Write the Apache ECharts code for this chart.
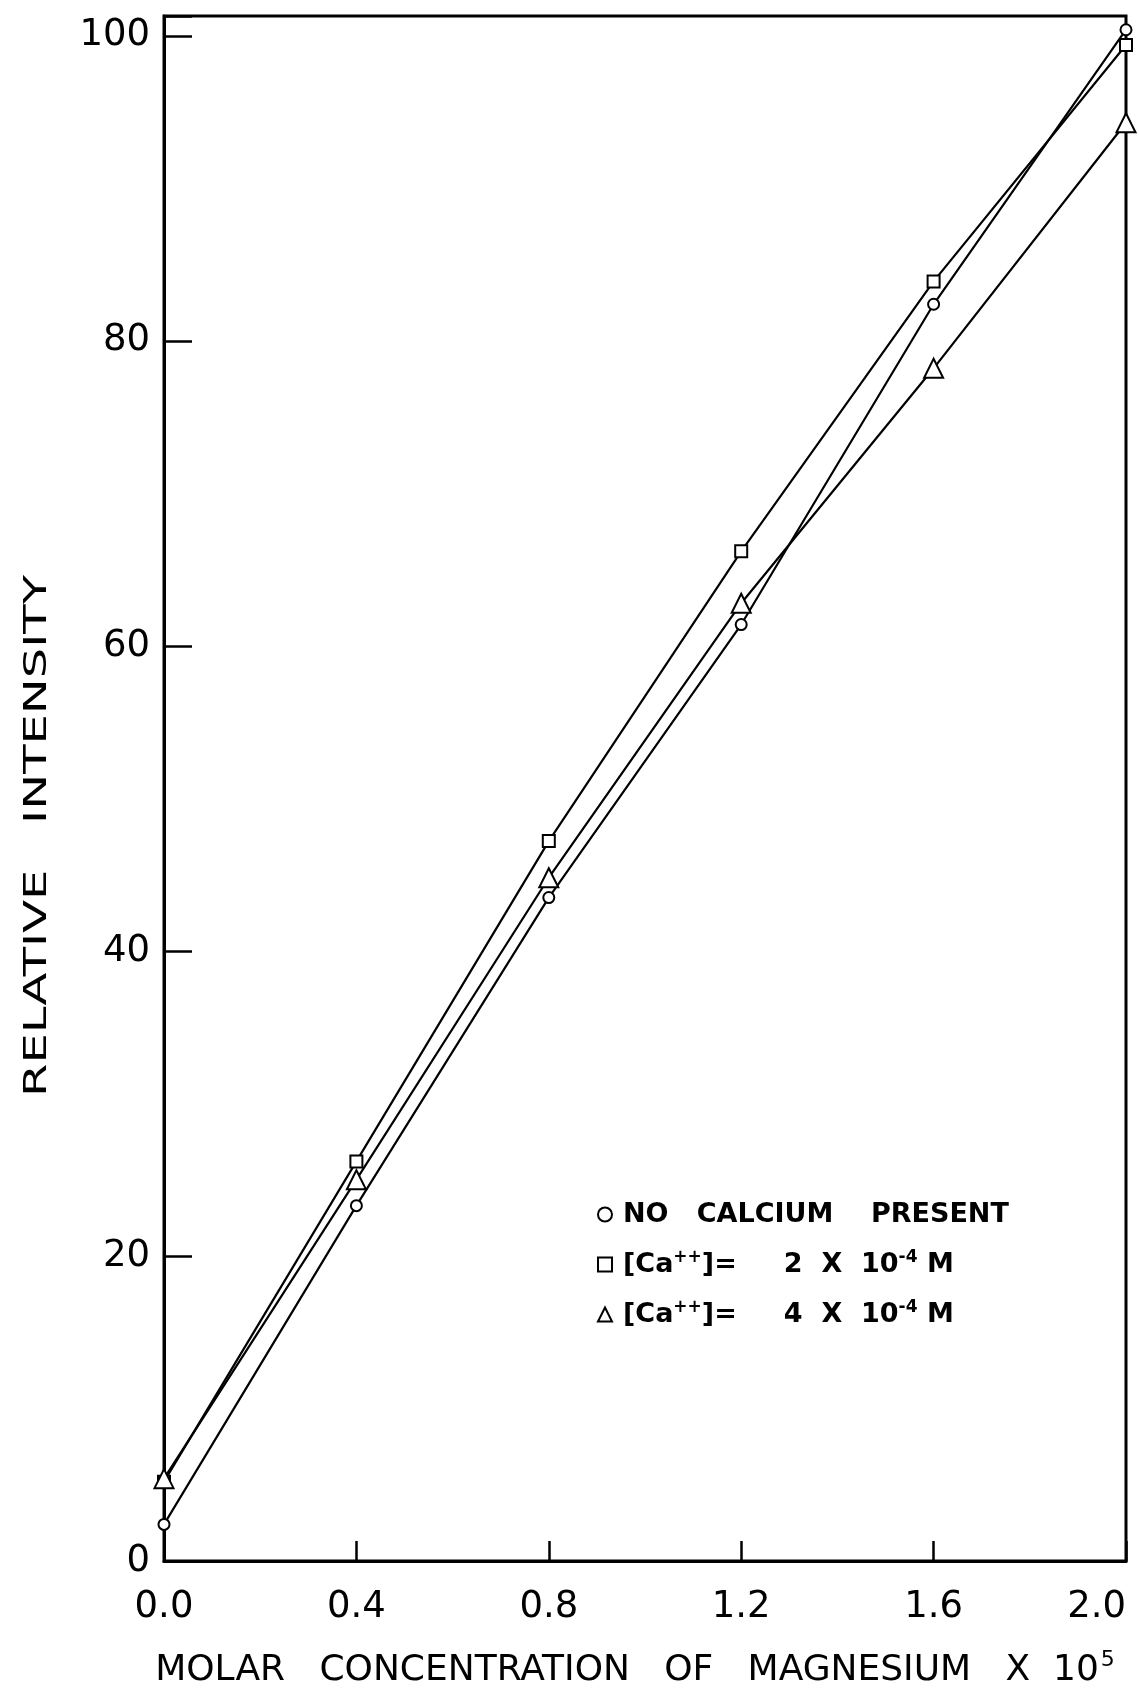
<!DOCTYPE html>
<html>
<head>
<meta charset="utf-8">
<script src="https://cdn.jsdelivr.net/npm/echarts@6/dist/echarts.min.js"></script>
<style>
  html, body { margin: 0; padding: 0; background: #fff; }
  #chart { width: 1139px; height: 1692px; }
</style>
</head>
<body>
<div id="chart"></div>
<script>
// ---- data ----
const xValues = [0.0, 0.4, 0.8, 1.2, 1.6, 2.0];
const noCalcium = [2.4, 23.3, 43.5, 61.4, 82.4, 100.4];
const ca2e4 = [5.2, 26.2, 47.2, 66.2, 83.9, 99.4];
const ca4e4 = [5.4, 25.0, 44.8, 62.8, 78.2, 94.3];
const yTicks = [0, 20, 40, 60, 80, 100];
const xTicks = ['0.0', '0.4', '0.8', '1.2', '1.6', '2.0'];
const seriesNames = ['NO CALCIUM PRESENT', '[Ca++]= 2 X 10-4 M', '[Ca++]= 4 X 10-4 M'];
const legendRich = {
  'NO CALCIUM PRESENT': '{g| }NO   CALCIUM    PRESENT',
  '[Ca++]= 2 X 10-4 M': '{g| }[Ca{s|++}]=     2  X  10{s|-4} M',
  '[Ca++]= 4 X 10-4 M': '{g| }[Ca{s|++}]=     4  X  10{s|-4} M'
};

const pairs = ys => xValues.map((x, i) => [x, ys[i]]);
const FONT = 'DejaVu Sans';

const chart = echarts.init(document.getElementById('chart'), null, { renderer: 'canvas' });

function mkSeries(name, ys, symbol, size) {
  return {
    name: name,
    type: 'line',
    data: pairs(ys),
    symbol: symbol,
    symbolSize: size,
    showAllSymbol: true,
    lineStyle: { color: '#000', width: 2.2 },
    itemStyle: { color: '#fff', borderColor: '#000', borderWidth: 2 },
    emphasis: { disabled: true },
    z: 3
  };
}

chart.setOption({
  animation: false,
  backgroundColor: '#fff',
  grid: {
    left: 164, right: 13, top: 16, bottom: 131,
    outerBoundsMode: 'none', containLabel: false,
    show: true, borderColor: '#000', borderWidth: 3, backgroundColor: 'transparent'
  },
  xAxis: {
    type: 'value', min: 0, max: 2.0, interval: 0.4,
    axisLine: { show: true, lineStyle: { color: '#000', width: 3 } },
    axisTick: { show: true, inside: true, length: 20, lineStyle: { color: '#000', width: 2.5 } },
    splitLine: { show: false },
    axisLabel: {
      margin: 28, color: '#000', fontFamily: FONT, fontSize: 37,
      alignMaxLabel: 'right',
      formatter: v => {
        const k = Math.round(v / 0.4);
        return Math.abs(v - k * 0.4) < 1e-6 && k < xTicks.length ? xTicks[k] : '';
      }
    },
    name: 'MOLAR   CONCENTRATION   OF   MAGNESIUM   X  10{s|5}',
    nameLocation: 'middle',
    nameGap: 88,
    nameTextStyle: {
      color: '#000', fontFamily: FONT, fontSize: 36,
      padding: [0, 20, 0, 0],
      rich: { s: { fontFamily: FONT, fontSize: 22, color: '#000', verticalAlign: 'top', padding: [0, 0, 22, 2] } }
    }
  },
  yAxis: {
    type: 'value', min: 0, max: 101.3, interval: 20,
    axisLine: { show: true, lineStyle: { color: '#000', width: 3 } },
    axisTick: { show: true, inside: true, length: 28, lineStyle: { color: '#000', width: 2.5 } },
    splitLine: { show: false },
    axisLabel: {
      margin: 14, color: '#000', fontFamily: FONT, fontSize: 37,
      formatter: v => (yTicks.indexOf(v) >= 0 ? String(v) : '')
    }
  },
  legend: {
    orient: 'vertical',
    left: 592, top: 1194,
    itemWidth: 14, itemHeight: 14, itemGap: 19,
    selectedMode: false,
    itemStyle: { color: '#fff', borderColor: '#000', borderWidth: 2 },
    data: [
      { name: seriesNames[0], icon: 'circle' },
      { name: seriesNames[1], icon: 'rect' },
      { name: seriesNames[2], icon: 'triangle' }
    ],
    formatter: n => legendRich[n],
    textStyle: {
      color: '#000', fontFamily: FONT, fontWeight: 'bold', fontSize: 27, lineHeight: 31,
      rich: {
        g: { width: 6, fontSize: 10, lineHeight: 31 },
        s: { color: '#000', fontFamily: FONT, fontWeight: 'bold', fontSize: 17, verticalAlign: 'top', lineHeight: 31, padding: [0, 0, 14, 0] }
      }
    }
  },
  graphic: [{
    type: 'text',
    x: 38, y: 836,
    rotation: Math.PI / 2,
    scaleX: 1.5, scaleY: 1,
    style: {
      text: 'RELATIVE   INTENSITY',
      fill: '#000', font: '32px "DejaVu Sans"',
      textAlign: 'center', textVerticalAlign: 'middle'
    }
  }],
  series: [
    mkSeries(seriesNames[0], noCalcium, 'circle', 11),
    mkSeries(seriesNames[1], ca2e4, 'rect', 12),
    mkSeries(seriesNames[2], ca4e4, 'triangle', 19)
  ]
});
</script>
</body>
</html>
